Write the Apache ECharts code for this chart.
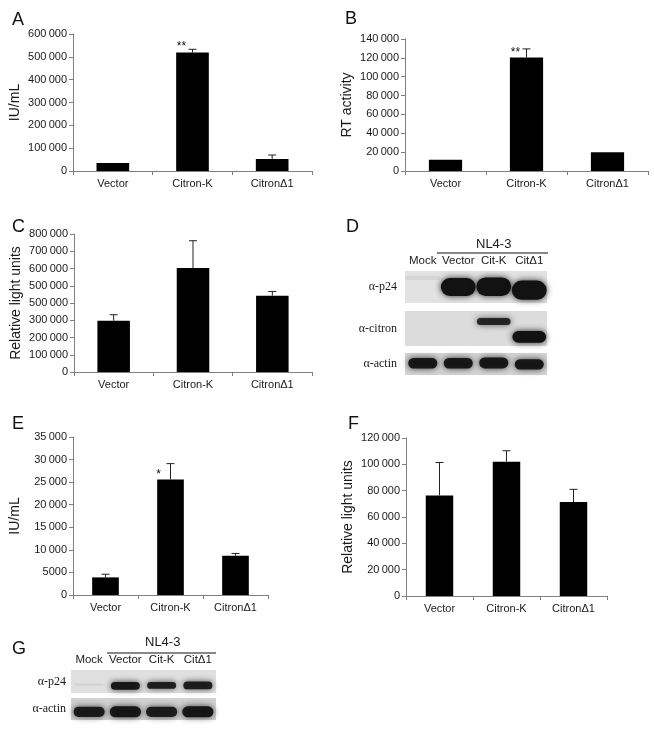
<!DOCTYPE html>
<html>
<head>
<meta charset="utf-8">
<script src="https://cdn.jsdelivr.net/npm/echarts@6/dist/echarts.min.js"></script>
<style>
  html, body { margin: 0; padding: 0; background: #fff; }
  #main { width: 654px; height: 730px; }
</style>
</head>
<body>
<div id="main"></div>
<script>
// categories shared by the bar panels
var cats = ['Vector', 'Citron-K', 'CitronΔ1'];

// A: IU/mL
var aMean = [35000, 519000, 52500];
var aSd = [0, 14000, 17500];
var aSig = ['', '**', ''];
var aTicks = [0, 100000, 200000, 300000, 400000, 500000, 600000];
var aLabels = ['0', '100\u2009000', '200\u2009000', '300\u2009000', '400\u2009000', '500\u2009000', '600\u2009000'];

// B: RT activity
var bMean = [12000, 120500, 19800];
var bSd = [0, 9000, 400];
var bSig = ['', '**', ''];
var bTicks = [0, 20000, 40000, 60000, 80000, 100000, 120000, 140000];
var bLabels = ['0', '20\u2009000', '40\u2009000', '60\u2009000', '80\u2009000', '100\u2009000', '120\u2009000', '140\u2009000'];

// C: relative light units (tick labels as printed in the figure)
var cMean = [297000, 603000, 442000];
var cSd = [35000, 158000, 25000];
var cSig = ['', '', ''];
var cTicks = [0, 100000, 200000, 300000, 400000, 500000, 600000, 700000, 800000];
var cLabels = ['0', '100\u2009000', '200\u2009000', '300\u2009000', '500\u2009000', '500\u2009000', '600\u2009000', '700\u2009000', '800\u2009000'];

// E: IU/mL
var eMean = [3900, 25600, 8700];
var eSd = [700, 3500, 500];
var eSig = ['', '*', ''];
var eTicks = [0, 5000, 10000, 15000, 20000, 25000, 30000, 35000];
var eLabels = ['0', '5000', '10\u2009000', '15\u2009000', '20\u2009000', '25\u2009000', '30\u2009000', '35\u2009000'];

// F: relative light units
var fMean = [76400, 102000, 71400];
var fSd = [25000, 8300, 9600];
var fSig = ['', '', ''];
var fTicks = [0, 20000, 40000, 60000, 80000, 100000, 120000];
var fLabels = ['0', '20\u2009000', '40\u2009000', '60\u2009000', '80\u2009000', '100\u2009000', '120\u2009000'];

// western blots: lanes, and bands as [lane, low edge, high edge, intensity] (0-1 of strip height)
var lanes = ['Mock', 'Vector', 'Cit-K', 'CitΔ1'];
var dP24 = [[0, 0.72, 0.85, 0.06], [1, 0.22, 0.78, 1], [2, 0.22, 0.8, 1], [3, 0.1, 0.7, 1]];
var dCitron = [[2, 0.6, 0.8, 0.85], [3, 0.09, 0.43, 1]];
var dActin = [[0, 0.3, 0.77, 0.95], [1, 0.3, 0.77, 0.95], [2, 0.3, 0.8, 0.95], [3, 0.25, 0.72, 0.95]];
var gP24 = [[0, 0.3, 0.42, 0.05], [1, 0.14, 0.48, 0.95], [2, 0.18, 0.48, 0.9], [3, 0.16, 0.5, 0.9]];
var gActin = [[0, 0.14, 0.6, 0.9], [1, 0.12, 0.62, 0.95], [2, 0.14, 0.6, 0.9], [3, 0.12, 0.62, 0.95]];

var FONT = 'Liberation Sans, Arial, sans-serif';
var chart = echarts.init(document.getElementById('main'));

var grids = [], xAxes = [], yAxes = [], series = [];

function barPanel(box, name, mean, sd, sig, ticks, labels, sigOffset) {
  var gi = grids.length;
  grids.push({ left: box[0], top: box[1], width: box[2], height: box[3], containLabel: false });
  xAxes.push({
    type: 'category', gridIndex: gi, data: cats,
    axisLine: { lineStyle: { color: '#808080', width: 1 } },
    axisTick: { show: true, length: 4, lineStyle: { color: '#808080' } },
    axisLabel: { color: '#1a1a1a', fontSize: 11, fontFamily: FONT, margin: 7 }
  });
  yAxes.push({
    type: 'value', gridIndex: gi,
    min: ticks[0], max: ticks[ticks.length - 1], interval: ticks[1] - ticks[0],
    name: name, nameLocation: 'middle', nameGap: 51,
    nameTextStyle: { color: '#1a1a1a', fontSize: 14, fontFamily: FONT },
    axisLine: { show: true, lineStyle: { color: '#808080', width: 1 } },
    axisTick: { show: true, length: 4, lineStyle: { color: '#808080' } },
    splitLine: { show: false },
    axisLabel: {
      color: '#1a1a1a', fontSize: 11, fontFamily: FONT, margin: 6,
      formatter: function (v) { return labels[ticks.indexOf(v)]; }
    }
  });
  series.push({
    type: 'bar', xAxisIndex: gi, yAxisIndex: gi, barWidth: '41%',
    itemStyle: { color: '#000' },
    data: mean.map(function (m, i) {
      return {
        value: m,
        label: {
          show: sig[i] !== '', formatter: sig[i], position: 'top', distance: 0,
          offset: sigOffset, color: '#111', fontSize: 12, fontFamily: FONT
        }
      };
    }),
    z: 2
  });
  series.push({
    type: 'custom', xAxisIndex: gi, yAxisIndex: gi, z: 3,
    data: mean.map(function (m, i) { return [i, m, m + sd[i]]; }),
    renderItem: function (params, api) {
      var i = api.value(0);
      var p0 = api.coord([i, api.value(1)]);
      var p1 = api.coord([i, api.value(2)]);
      if (p0[1] - p1[1] < 0.5) return null;
      return {
        type: 'group', children: [
          { type: 'line', shape: { x1: p0[0], y1: p0[1], x2: p1[0], y2: p1[1] }, style: { stroke: '#222', lineWidth: 1 } },
          { type: 'line', shape: { x1: p1[0] - 4, y1: p1[1], x2: p1[0] + 4, y2: p1[1] }, style: { stroke: '#222', lineWidth: 1 } }
        ]
      };
    }
  });
}

function blotStrip(box, rowName, bands, bg, widthFrac, labelGap, showLanes) {
  var gi = grids.length;
  grids.push({ left: box[0], top: box[1], width: box[2], height: box[3], show: true, backgroundColor: bg, borderWidth: 0 });
  xAxes.push({
    type: 'category', gridIndex: gi, data: lanes, position: 'top',
    axisLine: { show: false }, axisTick: { show: false },
    axisLabel: { show: showLanes, interval: 0, color: '#1a1a1a', fontSize: 11.5, fontFamily: FONT, margin: 4 }
  });
  var vi = yAxes.length;
  yAxes.push({ type: 'value', gridIndex: gi, min: 0, max: 1, show: false });
  yAxes.push({
    type: 'category', gridIndex: gi, data: [rowName], position: 'left',
    axisLine: { show: false }, axisTick: { show: false },
    axisLabel: { color: '#1a1a1a', fontSize: 12, fontFamily: 'Liberation Serif, serif', margin: labelGap }
  });
  series.push({
    type: 'custom', xAxisIndex: gi, yAxisIndex: vi, data: bands,
    renderItem: function (params, api) {
      var lane = api.value(0), k = api.value(3);
      var pLo = api.coord([lane, api.value(1)]);
      var pHi = api.coord([lane, api.value(2)]);
      var w = api.size([1, 0])[0] * widthFrac;
      var h = pLo[1] - pHi[1];
      return {
        type: 'rect',
        shape: { x: pLo[0] - w / 2, y: pHi[1], width: w, height: h, r: h / 2 },
        style: { fill: 'rgba(18,18,18,' + k + ')', shadowBlur: 6, shadowColor: 'rgba(18,18,18,' + (k * 0.9) + ')' }
      };
    }
  });
}

barPanel([73, 34, 239, 137], 'IU/mL', aMean, aSd, aSig, aTicks, aLabels, [-11, 0]);
barPanel([405, 39, 243, 132], 'RT activity', bMean, bSd, bSig, bTicks, bLabels, [-11, 1]);
barPanel([74, 234, 238, 138], 'Relative light units', cMean, cSd, cSig, cTicks, cLabels, [0, 0]);
barPanel([73, 437, 195, 158], 'IU/mL', eMean, eSd, eSig, eTicks, eLabels, [-12, 1]);
barPanel([406, 438, 201, 158], 'Relative light units', fMean, fSd, fSig, fTicks, fLabels, [0, 0]);

blotStrip([405, 271, 142, 32], 'α-p24', dP24, '#e2e2e2', 0.98, 8, true);
blotStrip([405, 311, 142, 35], 'α-citron', dCitron, '#dcdcdc', 0.95, 8, false);
blotStrip([405, 353, 142, 22], 'α-actin', dActin, '#d4d4d4', 0.82, 8, false);
blotStrip([71, 670, 145, 23], 'α-p24', gP24, '#e0e0e0', 0.8, 5, true);
blotStrip([71, 698, 145, 22], 'α-actin', gActin, '#d2d2d2', 0.86, 5, false);

function letter(t, x, y) {
  return { text: t, left: x, top: y, textStyle: { fontSize: 18, fontWeight: 'normal', color: '#111', fontFamily: FONT } };
}

chart.setOption({
  backgroundColor: '#fff',
  animation: false,
  title: [
    letter('A', 7, 6), letter('B', 340, 5), letter('C', 7, 213),
    letter('D', 341, 213), letter('E', 7, 410), letter('F', 343, 410), letter('G', 7, 635)
  ],
  grid: grids,
  xAxis: xAxes,
  yAxis: yAxes,
  series: series,
  graphic: [
    { type: 'text', left: 476, top: 238, style: { text: 'NL4-3', fontSize: 13, fontFamily: FONT, fill: '#1a1a1a' } },
    { type: 'line', shape: { x1: 437, y1: 253, x2: 548, y2: 253 }, style: { stroke: '#111', lineWidth: 1.2 } },
    { type: 'text', left: 145, top: 636, style: { text: 'NL4-3', fontSize: 13, fontFamily: FONT, fill: '#1a1a1a' } },
    { type: 'line', shape: { x1: 107, y1: 653, x2: 216, y2: 653 }, style: { stroke: '#111', lineWidth: 1.2 } }
  ]
});
</script>
</body>
</html>
